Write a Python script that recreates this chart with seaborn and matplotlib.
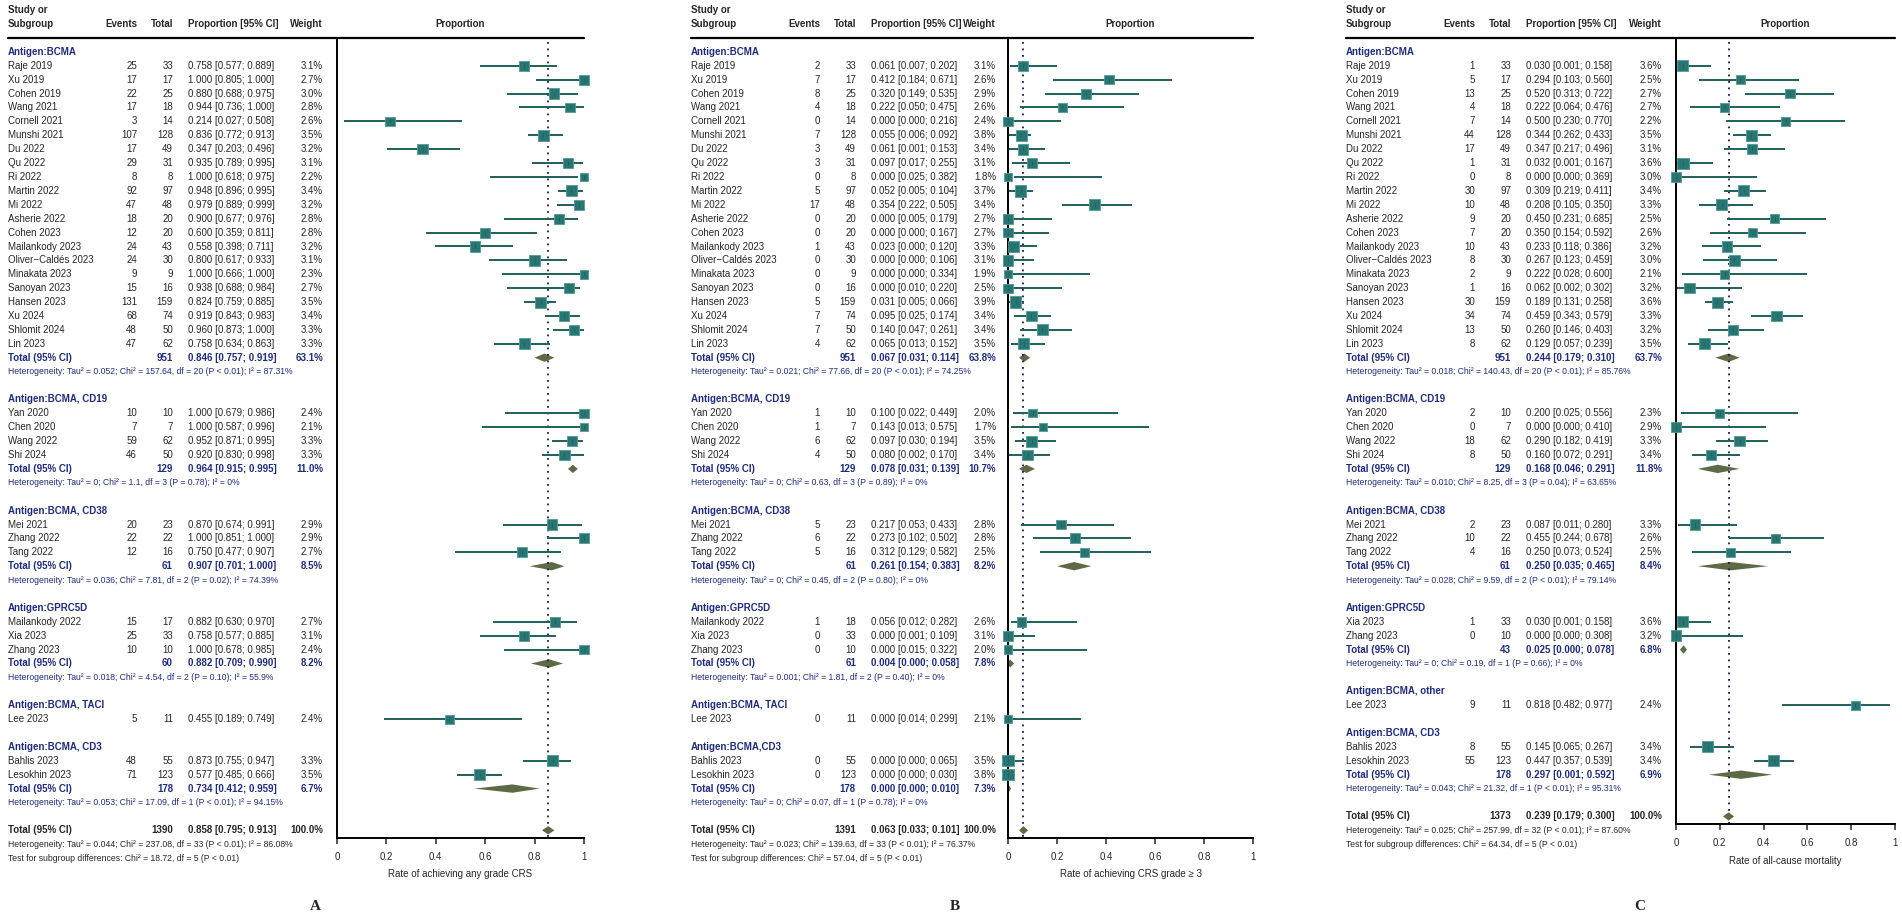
import matplotlib
matplotlib.use("Agg")
import matplotlib.pyplot as plt
import matplotlib.transforms as mtransforms
import numpy as np
import pandas as pd
import seaborn as sns

# ---------------- data ----------------
bcma_studies = ["Raje 2019", "Xu 2019", "Cohen 2019", "Wang 2021", "Cornell 2021", "Munshi 2021",
                "Du 2022", "Qu 2022", "Ri 2022", "Martin 2022", "Mi 2022", "Asherie 2022",
                "Cohen 2023", "Mailankody 2023", "Oliver\u2212Caldés 2023", "Minakata 2023",
                "Sanoyan 2023", "Hansen 2023", "Xu 2024", "Shlomit 2024", "Lin 2023"]
cd19_studies = ["Yan 2020", "Chen 2020", "Wang 2022", "Shi 2024"]
cd38_studies = ["Mei 2021", "Zhang 2022", "Tang 2022"]
gprc5d_studies_ab = ["Mailankody 2022", "Xia 2023", "Zhang 2023"]
gprc5d_studies_c = ["Xia 2023", "Zhang 2023"]
taci_studies = ["Lee 2023"]
cd3_studies = ["Bahlis 2023", "Lesokhin 2023"]

groups_a = ["Antigen:BCMA", "Antigen:BCMA, CD19", "Antigen:BCMA, CD38", "Antigen:GPRC5D",
            "Antigen:BCMA, TACI", "Antigen:BCMA, CD3"]
groups_b = ["Antigen:BCMA", "Antigen:BCMA, CD19", "Antigen:BCMA, CD38", "Antigen:GPRC5D",
            "Antigen:BCMA, TACI", "Antigen:BCMA,CD3"]
groups_c = ["Antigen:BCMA", "Antigen:BCMA, CD19", "Antigen:BCMA, CD38", "Antigen:GPRC5D",
            "Antigen:BCMA, other", "Antigen:BCMA, CD3"]

# panel A: any grade CRS
a_events = [25, 17, 22, 17, 3, 107, 17, 29, 8, 92, 47, 18, 12, 24, 24, 9, 15, 131, 68, 48, 47,
            10, 7, 59, 46, 20, 22, 12, 15, 25, 10, 5, 48, 71]
a_totals = [33, 17, 25, 18, 14, 128, 49, 31, 8, 97, 48, 20, 20, 43, 30, 9, 16, 159, 74, 50, 62,
            10, 7, 62, 50, 23, 22, 16, 17, 33, 10, 11, 55, 123]
a_prop = [0.758, 1.000, 0.880, 0.944, 0.214, 0.836, 0.347, 0.935, 1.000, 0.948, 0.979, 0.900,
          0.600, 0.558, 0.800, 1.000, 0.938, 0.824, 0.919, 0.960, 0.758,
          1.000, 1.000, 0.952, 0.920, 0.870, 1.000, 0.750, 0.882, 0.758, 1.000, 0.455, 0.873, 0.577]
a_lo = [0.577, 0.805, 0.688, 0.736, 0.027, 0.772, 0.203, 0.789, 0.618, 0.896, 0.889, 0.677,
        0.359, 0.398, 0.617, 0.666, 0.688, 0.759, 0.843, 0.873, 0.634,
        0.679, 0.587, 0.871, 0.830, 0.674, 0.851, 0.477, 0.630, 0.577, 0.678, 0.189, 0.755, 0.485]
a_hi = [0.889, 1.000, 0.975, 1.000, 0.508, 0.913, 0.496, 0.995, 0.975, 0.995, 0.999, 0.976,
        0.811, 0.711, 0.933, 1.000, 0.984, 0.885, 0.983, 1.000, 0.863,
        0.986, 0.996, 0.995, 0.998, 0.991, 1.000, 0.907, 0.970, 0.885, 0.985, 0.749, 0.947, 0.666]
a_weight = [3.1, 2.7, 3.0, 2.8, 2.6, 3.5, 3.2, 3.1, 2.2, 3.4, 3.2, 2.8, 2.8, 3.2, 3.1, 2.3, 2.7,
            3.5, 3.4, 3.3, 3.3, 2.4, 2.1, 3.3, 3.3, 2.9, 2.9, 2.7, 2.7, 3.1, 2.4, 2.4, 3.3, 3.5]
a_sub_n = [951, 129, 61, 60, None, 178]
a_sub_est = [0.846, 0.964, 0.907, 0.882, None, 0.734]
a_sub_lo = [0.757, 0.915, 0.701, 0.709, None, 0.412]
a_sub_hi = [0.919, 0.995, 1.000, 0.990, None, 0.959]
a_sub_w = [63.1, 11.0, 8.5, 8.2, None, 6.7]
# diamonds as drawn in the picture
a_dia_est = [0.84, 0.955, 0.87, 0.858, None, 0.71]
a_dia_lo = [0.80, 0.935, 0.78, 0.785, None, 0.555]
a_dia_hi = [0.88, 0.975, 0.92, 0.915, None, 0.82]
a_sub_het = ["Tau² = 0.052; Chi² = 157.64, df = 20 (P < 0.01); I² = 87.31%",
             "Tau² = 0; Chi² = 1.1, df = 3 (P = 0.78); I² = 0%",
             "Tau² = 0.036; Chi² = 7.81, df = 2 (P = 0.02); I² = 74.39%",
             "Tau² = 0.018; Chi² = 4.54, df = 2 (P = 0.10); I² = 55.9%",
             None,
             "Tau² = 0.053; Chi² = 17.09, df = 1 (P < 0.01); I² = 94.15%"]
a_all = [1390, 0.858, 0.795, 0.913]
a_all_dia = [0.855, 0.83, 0.88]
a_all_het = "Tau² = 0.044; Chi² = 237.08, df = 33 (P < 0.01); I² = 86.08%"
a_test = "Chi² = 18.72, df = 5 (P < 0.01)"

# panel B: CRS grade >= 3
b_events = [2, 7, 8, 4, 0, 7, 3, 3, 0, 5, 17, 0, 0, 1, 0, 0, 0, 5, 7, 7, 4,
            1, 1, 6, 4, 5, 6, 5, 1, 0, 0, 0, 0, 0]
b_totals = [33, 17, 25, 18, 14, 128, 49, 31, 8, 97, 48, 20, 20, 43, 30, 9, 16, 159, 74, 50, 62,
            10, 7, 62, 50, 23, 22, 16, 18, 33, 10, 11, 55, 123]
b_prop = [0.061, 0.412, 0.320, 0.222, 0.000, 0.055, 0.061, 0.097, 0.000, 0.052, 0.354, 0.000,
          0.000, 0.023, 0.000, 0.000, 0.000, 0.031, 0.095, 0.140, 0.065,
          0.100, 0.143, 0.097, 0.080, 0.217, 0.273, 0.312, 0.056, 0.000, 0.000, 0.000, 0.000, 0.000]
b_lo = [0.007, 0.184, 0.149, 0.050, 0.000, 0.006, 0.001, 0.017, 0.025, 0.005, 0.222, 0.005,
        0.000, 0.000, 0.000, 0.000, 0.010, 0.005, 0.025, 0.047, 0.013,
        0.022, 0.013, 0.030, 0.002, 0.053, 0.102, 0.129, 0.012, 0.001, 0.015, 0.014, 0.000, 0.000]
b_hi = [0.202, 0.671, 0.535, 0.475, 0.216, 0.092, 0.153, 0.255, 0.382, 0.104, 0.505, 0.179,
        0.167, 0.120, 0.106, 0.334, 0.220, 0.066, 0.174, 0.261, 0.152,
        0.449, 0.575, 0.194, 0.170, 0.433, 0.502, 0.582, 0.282, 0.109, 0.322, 0.299, 0.065, 0.030]
b_weight = [3.1, 2.6, 2.9, 2.6, 2.4, 3.8, 3.4, 3.1, 1.8, 3.7, 3.4, 2.7, 2.7, 3.3, 3.1, 1.9, 2.5,
            3.9, 3.4, 3.4, 3.5, 2.0, 1.7, 3.5, 3.4, 2.8, 2.8, 2.5, 2.6, 3.1, 2.0, 2.1, 3.5, 3.8]
b_sub_n = [951, 129, 61, 61, None, 178]
b_sub_est = [0.067, 0.078, 0.261, 0.004, None, 0.000]
b_sub_lo = [0.031, 0.031, 0.154, 0.000, None, 0.000]
b_sub_hi = [0.114, 0.139, 0.383, 0.058, None, 0.010]
b_sub_w = [63.8, 10.7, 8.2, 7.8, None, 7.3]
b_dia_est = [0.067, 0.075, 0.27, 0.008, None, 0.002]
b_dia_lo = [0.045, 0.045, 0.20, 0.000, None, 0.000]
b_dia_hi = [0.09, 0.11, 0.34, 0.025, None, 0.012]
b_sub_het = ["Tau² = 0.021; Chi² = 77.66, df = 20 (P < 0.01); I² = 74.25%",
             "Tau² = 0; Chi² = 0.63, df = 3 (P = 0.89); I² = 0%",
             "Tau² = 0; Chi² = 0.45, df = 2 (P = 0.80); I² = 0%",
             "Tau² = 0.001; Chi² = 1.81, df = 2 (P = 0.40); I² = 0%",
             None,
             "Tau² = 0; Chi² = 0.07, df = 1 (P = 0.78); I² = 0%"]
b_all = [1391, 0.063, 0.033, 0.101]
b_all_dia = [0.063, 0.045, 0.082]
b_all_het = "Tau² = 0.023; Chi² = 139.63, df = 33 (P < 0.01); I² = 76.37%"
b_test = "Chi² = 57.04, df = 5 (P < 0.01)"

# panel C: all-cause mortality
c_events = [1, 5, 13, 4, 7, 44, 17, 1, 0, 30, 10, 9, 7, 10, 8, 2, 1, 30, 34, 13, 8,
            2, 0, 18, 8, 2, 10, 4, 1, 0, 9, 8, 55]
c_totals = [33, 17, 25, 18, 14, 128, 49, 31, 8, 97, 48, 20, 20, 43, 30, 9, 16, 159, 74, 50, 62,
            10, 7, 62, 50, 23, 22, 16, 33, 10, 11, 55, 123]
c_prop = [0.030, 0.294, 0.520, 0.222, 0.500, 0.344, 0.347, 0.032, 0.000, 0.309, 0.208, 0.450,
          0.350, 0.233, 0.267, 0.222, 0.062, 0.189, 0.459, 0.260, 0.129,
          0.200, 0.000, 0.290, 0.160, 0.087, 0.455, 0.250, 0.030, 0.000, 0.818, 0.145, 0.447]
c_lo = [0.001, 0.103, 0.313, 0.064, 0.230, 0.262, 0.217, 0.001, 0.000, 0.219, 0.105, 0.231,
        0.154, 0.118, 0.123, 0.028, 0.002, 0.131, 0.343, 0.146, 0.057,
        0.025, 0.000, 0.182, 0.072, 0.011, 0.244, 0.073, 0.001, 0.000, 0.482, 0.065, 0.357]
c_hi = [0.158, 0.560, 0.722, 0.476, 0.770, 0.433, 0.496, 0.167, 0.369, 0.411, 0.350, 0.685,
        0.592, 0.386, 0.459, 0.600, 0.302, 0.258, 0.579, 0.403, 0.239,
        0.556, 0.410, 0.419, 0.291, 0.280, 0.678, 0.524, 0.158, 0.308, 0.977, 0.267, 0.539]
c_weight = [3.6, 2.5, 2.7, 2.7, 2.2, 3.5, 3.1, 3.6, 3.0, 3.4, 3.3, 2.5, 2.6, 3.2, 3.0, 2.1, 3.2,
            3.6, 3.3, 3.2, 3.5, 2.3, 2.9, 3.3, 3.4, 3.3, 2.6, 2.5, 3.6, 3.2, 2.4, 3.4, 3.4]
c_sub_n = [951, 129, 61, 43, None, 178]
c_sub_est = [0.244, 0.168, 0.250, 0.025, None, 0.297]
c_sub_lo = [0.179, 0.046, 0.035, 0.000, None, 0.001]
c_sub_hi = [0.310, 0.291, 0.465, 0.078, None, 0.592]
c_sub_w = [63.7, 11.8, 8.4, 6.8, None, 6.9]
c_dia_est = [0.24, 0.19, 0.25, 0.035, None, 0.297]
c_dia_lo = [0.18, 0.10, 0.10, 0.018, None, 0.15]
c_dia_hi = [0.29, 0.29, 0.42, 0.05, None, 0.44]
c_sub_het = ["Tau² = 0.018; Chi² = 140.43, df = 20 (P < 0.01); I² = 85.76%",
             "Tau² = 0.010; Chi² = 8.25, df = 3 (P = 0.04); I² = 63.65%",
             "Tau² = 0.028; Chi² = 9.59, df = 2 (P < 0.01); I² = 79.14%",
             "Tau² = 0; Chi² = 0.19, df = 1 (P = 0.66); I² = 0%",
             None,
             "Tau² = 0.043; Chi² = 21.32, df = 1 (P < 0.01); I² = 95.31%"]
c_all = [1373, 0.239, 0.179, 0.300]
c_all_dia = [0.24, 0.215, 0.265]
c_all_het = "Tau² = 0.025; Chi² = 257.99, df = 32 (P < 0.01); I² = 87.60%"
c_test = "Chi² = 64.34, df = 5 (P < 0.01)"

# ---------------- style ----------------
FW, FH = 1902, 918
ROW0, ROWH = 52.0, 13.9      # pixel y of first row, row height
TOP_PX = 38.0
NAVY = "#1f2c7c"
TEAL = "#287571"
TEAL_EDGE = "#4f9c96"
CI_COL = "#1f5f5b"
OLIVE = "#5c6b45"
FS = 7.0
FS_SMALL = 6.2

sns.set_style("white")
plt.rcParams["font.family"] = ["Liberation Sans", "DejaVu Sans"]

fig = plt.figure(figsize=(FW / 100, FH / 100), dpi=100)


def draw_panel(p):
    x0, plot0, width = p["x0"], p["plot0"], p["width"]
    evR, totR, propL, wR = x0 + 129, x0 + 165, x0 + 180, p["wR"]
    sizes = [len(s) for s in p["studies"]]

    # row layout
    rows_study, rows_head, rows_tot, rows_het = [], [], [], []
    r = 0
    for n in sizes:
        rows_head.append(r)
        rows_study.extend(range(r + 1, r + 1 + n))
        r += 1 + n
        if n > 1:
            rows_tot.append(r)
            rows_het.append(r + 1)
            r += 2
        else:
            rows_tot.append(None)
            rows_het.append(None)
        r += 1
    r_all = r
    r_bot = r_all + 0.55

    h_px = (r_bot + 1.0) * ROWH
    ax = fig.add_axes([plot0 / FW, 1 - (TOP_PX + h_px) / FH, width / FW, h_px / FH])
    ax.set_xlim(0, 1)
    ax.set_ylim(r_bot, -1.0)
    trans = mtransforms.blended_transform_factory(fig.transFigure, ax.transData)

    def put(px, row, s, **kw):
        kw.setdefault("fontsize", FS)
        kw.setdefault("va", "center")
        ax.text(px / FW, row, s, transform=trans, clip_on=False, **kw)

    def fput(px, py, s, **kw):
        kw.setdefault("fontsize", FS)
        kw.setdefault("va", "center")
        fig.text(px / FW, 1 - py / FH, s, **kw)

    # header
    fput(x0, 10, "Study or", fontweight="bold")
    fput(x0, 24, "Subgroup", fontweight="bold")
    fput(evR, 24, "Events", fontweight="bold", ha="right")
    fput(totR, 24, "Total", fontweight="bold", ha="right")
    fput(propL, 24, "Proportion [95% CI]", fontweight="bold")
    fput(wR, 24, "Weight", fontweight="bold", ha="right")
    fput(plot0 + width / 2, 24, "Proportion", fontweight="bold", ha="center")
    fig.add_artist(plt.Line2D([x0 / FW, (plot0 + width) / FW], [1 - TOP_PX / FH] * 2,
                              color="black", lw=1.6, transform=fig.transFigure))

    names = [s for grp in p["studies"] for s in grp]
    df = pd.DataFrame({"study": names, "row": rows_study, "events": p["events"],
                       "total": p["totals"], "prop": p["prop"], "lo": p["lo"],
                       "hi": p["hi"], "weight": p["weight"]})

    # study rows text
    for _, d in df.iterrows():
        put(x0, d.row, d.study)
        put(evR, d.row, f"{int(d.events)}", ha="right")
        put(totR, d.row, f"{int(d.total)}", ha="right")
        put(propL, d.row, f"{d.prop:.3f} [{d.lo:.3f}; {d.hi:.3f}]")
        put(wR, d.row, f"{d.weight:.1f}%", ha="right")

    # subgroup headers, totals, heterogeneity
    for i, g in enumerate(p["groups"]):
        put(x0, rows_head[i], g, color=NAVY, fontweight="bold")
        if rows_tot[i] is None:
            continue
        rt = rows_tot[i]
        put(x0, rt, "Total (95% CI)", color=NAVY, fontweight="bold")
        put(totR, rt, f"{p['sub_n'][i]}", color=NAVY, fontweight="bold", ha="right")
        put(propL, rt, f"{p['sub_est'][i]:.3f} [{p['sub_lo'][i]:.3f}; {p['sub_hi'][i]:.3f}]",
            color=NAVY, fontweight="bold")
        put(wR, rt, f"{p['sub_w'][i]:.1f}%", color=NAVY, fontweight="bold", ha="right")
        put(x0, rows_het[i], "Heterogeneity: " + p["sub_het"][i], color=NAVY, fontsize=FS_SMALL)
        e, lo, hi = p["dia_est"][i], p["dia_lo"][i], p["dia_hi"][i]
        ax.fill([lo, e, hi, e], [rt, rt - 0.3, rt, rt + 0.3], color=OLIVE, lw=0, clip_on=False)

    n_all, e_all, lo_all, hi_all = p["all"]
    put(x0, r_all, "Total (95% CI)", fontweight="bold")
    put(totR, r_all, f"{n_all}", fontweight="bold", ha="right")
    put(propL, r_all, f"{e_all:.3f} [{lo_all:.3f}; {hi_all:.3f}]", fontweight="bold")
    put(wR, r_all, "100.0%", fontweight="bold", ha="right")
    put(x0, r_all + 1, "Heterogeneity: " + p["all_het"], fontsize=FS_SMALL)
    put(x0, r_all + 2, "Test for subgroup differences: " + p["test"], fontsize=FS_SMALL)
    de, dlo, dhi = p["all_dia"]
    ax.fill([dlo, de, dhi, de], [r_all, r_all - 0.3, r_all, r_all + 0.3], color=OLIVE, lw=0,
            clip_on=False, zorder=3)

    # reference line at overall estimate
    ax.vlines(de, -0.7, r_bot, colors="#1a1a4a", linestyles=(0, (1, 2.6)), lw=1.3, zorder=1)

    # confidence intervals and weighted squares
    ax.hlines(df["row"], df["lo"], df["hi"], colors=CI_COL, lw=1.4, zorder=2, clip_on=False)
    sns.scatterplot(data=df, x="prop", y="row", size="weight", sizes=(0, 72), size_norm=(0, 4),
                    marker="s", color=TEAL, edgecolor=TEAL_EDGE, linewidth=0.6, legend=False,
                    ax=ax, zorder=3, clip_on=False)
    ax.scatter(df["prop"], df["row"], marker="|", s=8, color=CI_COL, lw=0.6, zorder=4,
               clip_on=False)

    ax.set_xticks([0, 0.2, 0.4, 0.6, 0.8, 1])
    ax.set_xticklabels(["0", "0.2", "0.4", "0.6", "0.8", "1"])
    ax.set_yticks([])
    ax.set_xlabel(p["xlabel"], fontsize=FS, labelpad=5.5)
    ax.set_ylabel("")
    ax.tick_params(axis="x", direction="out", length=4, width=1.1, pad=6,
                   labelsize=FS, bottom=True)
    for side in ["top", "right"]:
        ax.spines[side].set_visible(False)
    for side in ["left", "bottom"]:
        ax.spines[side].set_linewidth(1.4)
        ax.spines[side].set_color("black")
    ax.patch.set_alpha(0)

    fput(p["letter_x"], 907, p["letter"], fontsize=11, fontweight="bold",
         family=["Liberation Serif", "DejaVu Serif"], ha="center")


panels = [
    dict(x0=8, plot0=337, width=247, wR=323, letter="A", letter_x=315,
         xlabel="Rate of achieving any grade CRS", groups=groups_a,
         studies=[bcma_studies, cd19_studies, cd38_studies, gprc5d_studies_ab, taci_studies, cd3_studies],
         events=a_events, totals=a_totals, prop=a_prop, lo=a_lo, hi=a_hi, weight=a_weight,
         sub_n=a_sub_n, sub_est=a_sub_est, sub_lo=a_sub_lo, sub_hi=a_sub_hi, sub_w=a_sub_w,
         dia_est=a_dia_est, dia_lo=a_dia_lo, dia_hi=a_dia_hi, sub_het=a_sub_het,
         all=a_all, all_dia=a_all_dia, all_het=a_all_het, test=a_test),
    dict(x0=691, plot0=1008, width=245, wR=996, letter="B", letter_x=955,
         xlabel="Rate of achieving CRS grade \u2265 3", groups=groups_b,
         studies=[bcma_studies, cd19_studies, cd38_studies, gprc5d_studies_ab, taci_studies, cd3_studies],
         events=b_events, totals=b_totals, prop=b_prop, lo=b_lo, hi=b_hi, weight=b_weight,
         sub_n=b_sub_n, sub_est=b_sub_est, sub_lo=b_sub_lo, sub_hi=b_sub_hi, sub_w=b_sub_w,
         dia_est=b_dia_est, dia_lo=b_dia_lo, dia_hi=b_dia_hi, sub_het=b_sub_het,
         all=b_all, all_dia=b_all_dia, all_het=b_all_het, test=b_test),
    dict(x0=1346, plot0=1676, width=219, wR=1662, letter="C", letter_x=1640,
         xlabel="Rate of all-cause mortality", groups=groups_c,
         studies=[bcma_studies, cd19_studies, cd38_studies, gprc5d_studies_c, taci_studies, cd3_studies],
         events=c_events, totals=c_totals, prop=c_prop, lo=c_lo, hi=c_hi, weight=c_weight,
         sub_n=c_sub_n, sub_est=c_sub_est, sub_lo=c_sub_lo, sub_hi=c_sub_hi, sub_w=c_sub_w,
         dia_est=c_dia_est, dia_lo=c_dia_lo, dia_hi=c_dia_hi, sub_het=c_sub_het,
         all=c_all, all_dia=c_all_dia, all_het=c_all_het, test=c_test),
]

for p in panels:
    draw_panel(p)

fig.savefig("out.png", dpi=100, facecolor="white")
